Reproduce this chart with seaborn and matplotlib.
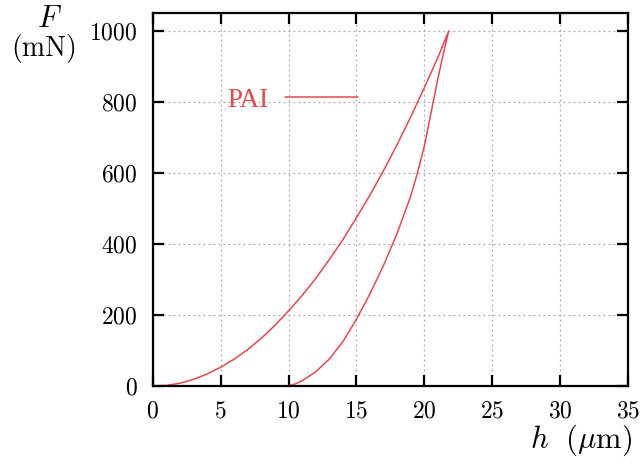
import pandas as pd
import matplotlib
matplotlib.use("Agg")
import matplotlib.pyplot as plt
import seaborn as sns

# Loading branch (h in um, F in mN)
load_h = [0, 1, 2, 3, 4, 5, 6, 7, 8, 9, 10, 11, 12, 13, 14, 15, 16, 17, 18, 19, 20, 21, 21.8]
load_F = [0, 2, 8, 19, 34, 53, 76, 103, 135, 171, 212, 255, 303, 356, 412, 474, 538, 607, 680, 758, 840, 925, 1000]

# Unloading branch
unload_h = [21.8, 21.4, 21, 20.5, 20, 19.5, 19, 18, 17, 16, 15, 14, 13, 12, 11, 10.5, 10, 9.7]
unload_F = [1000, 935, 865, 770, 675, 600, 535, 430, 340, 260, 188, 125, 76, 40, 15, 6, 1, 0]

x_ticks = [0, 5, 10, 15, 20, 25, 30, 35]
y_ticks = [0, 200, 400, 600, 800, 1000]

df = pd.DataFrame({
    "h": load_h + unload_h,
    "F": load_F + unload_F,
})

sns.set_style("ticks")
plt.rcParams["font.family"] = ["cmr10", "DejaVu Serif"]
plt.rcParams["axes.formatter.use_mathtext"] = True
plt.rcParams["mathtext.fontset"] = "cm"
plt.rcParams["text.color"] = "black"
plt.rcParams["xtick.color"] = "black"
plt.rcParams["ytick.color"] = "black"

red = "#e8474c"

fig = plt.figure(figsize=(6.42, 4.72), dpi=100)
ax = fig.add_axes([0.238, 0.182, 0.740, 0.790])

sns.lineplot(data=df, x="h", y="F", sort=False, estimator=None,
             color=red, linewidth=1.1, label="PAI", ax=ax)

ax.set_xlim(0, 35)
ax.set_ylim(0, 1050)
ax.set_xticks(x_ticks)
ax.set_yticks(y_ticks)
ax.grid(True, color="#aaaaaa", linestyle=(0, (1.5, 2.5)), linewidth=0.9)
for s in ax.spines.values():
    s.set_linewidth(1.6)
    s.set_color("black")
ax.tick_params(direction="in", length=8, width=1.6, labelsize=17,
               top=True, right=True)
ax.tick_params(axis="y", pad=11)
ax.tick_params(axis="x", pad=10)
ax.set_xlabel("")
ax.set_ylabel("")

fig.text(0.077, 0.96, "$F$", fontsize=22, ha="center", va="center")
fig.text(0.069, 0.898, "(mN)", fontsize=20, ha="center", va="center")
fig.text(0.985, 0.068, r"$h\ \ (\mu\mathrm{m})$", fontsize=22, ha="right", va="center")

leg = ax.legend(loc="center right", bbox_to_anchor=(0.455, 0.767), frameon=False,
                markerfirst=False, handlelength=2.7,
                prop={"family": "Liberation Serif", "size": 19.5},
                borderaxespad=0, handletextpad=0.6)
for t in leg.get_texts():
    t.set_color(red)

fig.savefig("out.png", dpi=100, facecolor="white")
